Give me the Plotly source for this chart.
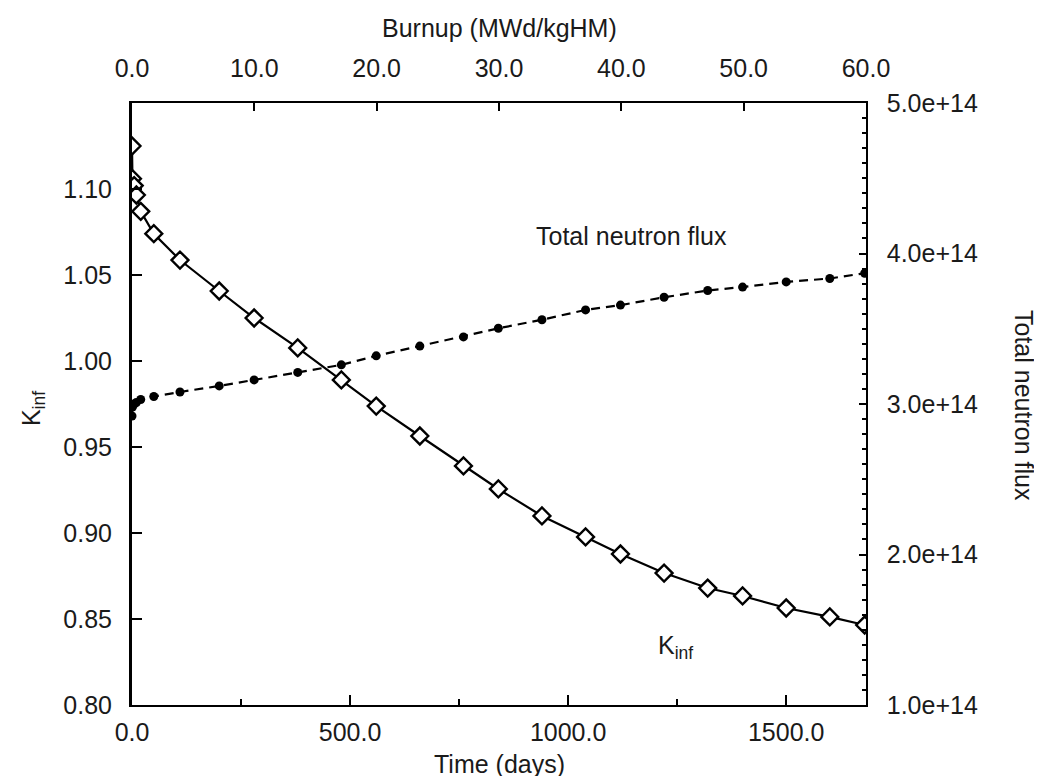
import plotly.graph_objects as go

# ---- data ----
time_days = [0, 1, 5, 10, 20, 50, 110, 200, 280, 380, 480, 560, 660, 760,
             840, 940, 1040, 1120, 1220, 1320, 1400, 1500, 1600, 1680]
kinf = [1.125, 1.106, 1.102, 1.0965, 1.087, 1.074, 1.0587, 1.0407, 1.025,
        1.0076, 0.989, 0.9738, 0.9564, 0.939, 0.9256, 0.9099, 0.8977, 0.8878,
        0.8767, 0.868, 0.8634, 0.8564, 0.8512, 0.8465]
flux = [2.92e14, 2.98e14, 3.00e14, 3.01e14, 3.03e14, 3.05e14, 3.08e14,
        3.12e14, 3.16e14, 3.21e14, 3.26e14, 3.32e14, 3.385e14, 3.446e14,
        3.503e14, 3.56e14, 3.625e14, 3.657e14, 3.709e14, 3.754e14, 3.777e14,
        3.811e14, 3.834e14, 3.869e14]

time_ticks = [0, 500, 1000, 1500]
burnup_ticks = [0, 10, 20, 30, 40, 50, 60]
kinf_ticks = [0.80, 0.85, 0.90, 0.95, 1.00, 1.05, 1.10]
flux_ticks = [1e14, 2e14, 3e14, 4e14, 5e14]

time_range = [0, 1683]
burnup_range = [0, 60]
kinf_range = [0.80, 1.15]
flux_range = [1e14, 5e14]

FONT = "Liberation Sans, Arial, Helvetica, sans-serif"
TXT = "#1a1a1a"
FS = 25

fig = go.Figure()

fig.add_trace(go.Scatter(
    x=time_days, y=flux, xaxis="x", yaxis="y2", mode="lines+markers",
    line=dict(color="black", width=2.2, dash="9px,6px"),
    marker=dict(symbol="circle", size=9, color="black"),
    showlegend=False, hoverinfo="skip"))

fig.add_trace(go.Scatter(
    x=time_days, y=kinf, xaxis="x", yaxis="y", mode="lines+markers",
    line=dict(color="black", width=2.2),
    marker=dict(symbol="diamond", size=13, color="white",
                line=dict(color="black", width=2.4)),
    showlegend=False, hoverinfo="skip"))

# invisible trace to activate the top burnup axis
fig.add_trace(go.Scatter(
    x=burnup_ticks, y=[None] * len(burnup_ticks), xaxis="x2", yaxis="y",
    mode="markers", opacity=0, showlegend=False, hoverinfo="skip"))

tickfont = dict(family=FONT, size=FS, color=TXT)

fig.update_layout(
    width=1042, height=776,
    margin=dict(l=124, r=184, t=95, b=79, autoexpand=False),
    paper_bgcolor="white", plot_bgcolor="white",
    font=dict(family=FONT, size=FS, color=TXT),
    xaxis=dict(range=time_range, tickvals=time_ticks, tickformat=".1f",
               showgrid=False, zeroline=False, showline=True,
               linecolor="black", linewidth=2, ticks="inside", ticklen=10,
               tickwidth=1.5, tickcolor="black", tickfont=tickfont,
               ticklabelstandoff=4,
               minor=dict(dtick=250, tick0=0, ticks="inside", ticklen=6,
                          tickwidth=1.5, tickcolor="black", showgrid=False)),
    xaxis2=dict(range=burnup_range, overlaying="x", side="top", anchor="y",
                tickvals=burnup_ticks, tickformat=".1f", showgrid=False,
                zeroline=False, showline=True, linecolor="black", linewidth=2,
                ticks="inside", ticklen=8, tickwidth=1.5, tickcolor="black",
                tickfont=tickfont, ticklabelstandoff=14),
    yaxis=dict(range=kinf_range, tickvals=kinf_ticks, tickformat=".2f",
               showgrid=False, zeroline=False, showline=True,
               linecolor="black", linewidth=3, ticks="inside", ticklen=10,
               tickwidth=1.5, tickcolor="black", tickfont=tickfont,
               ticklabelstandoff=12),
    yaxis2=dict(range=flux_range, overlaying="y", side="right", anchor="x",
                tickvals=flux_ticks, tickformat=".1e", showgrid=False,
                zeroline=False, showline=True, linecolor="black",
                linewidth=1.5, ticks="inside", ticklen=7, tickwidth=1.5,
                tickcolor="black", tickfont=tickfont, ticklabelstandoff=14,
                minor=dict(dtick=1e13, tick0=1e14, ticks="inside", ticklen=4,
                           tickwidth=1.5, tickcolor="black", showgrid=False)),
    annotations=[
        dict(text="Burnup (MWd/kgHM)", xref="paper", yref="paper", x=0.5,
             y=1.125, xanchor="center", yanchor="middle", showarrow=False,
             font=dict(family=FONT, size=FS, color=TXT)),
        dict(text="Time (days)", xref="paper", yref="paper", x=0.5,
             y=-0.098, xanchor="center", yanchor="middle", showarrow=False,
             font=dict(family=FONT, size=FS, color=TXT)),
        dict(text="K<sub>inf</sub>", xref="paper", yref="paper", x=-0.135,
             y=0.493, xanchor="center", yanchor="middle", showarrow=False,
             textangle=-90, font=dict(family=FONT, size=FS, color=TXT)),
        dict(text="Total neutron flux", xref="paper", yref="paper", x=1.215,
             y=0.497, xanchor="center", yanchor="middle", showarrow=False,
             textangle=90, font=dict(family=FONT, size=FS, color=TXT)),
        dict(text="Total neutron flux", xref="x", yref="y", x=1145, y=1.0727,
             xanchor="center", yanchor="middle", showarrow=False,
             font=dict(family=FONT, size=FS, color=TXT)),
        dict(text="K<sub>inf</sub>", xref="x", yref="y", x=1246, y=0.834,
             xanchor="center", yanchor="middle", showarrow=False,
             font=dict(family=FONT, size=FS, color=TXT)),
    ],
)

fig.write_html("out.html")
